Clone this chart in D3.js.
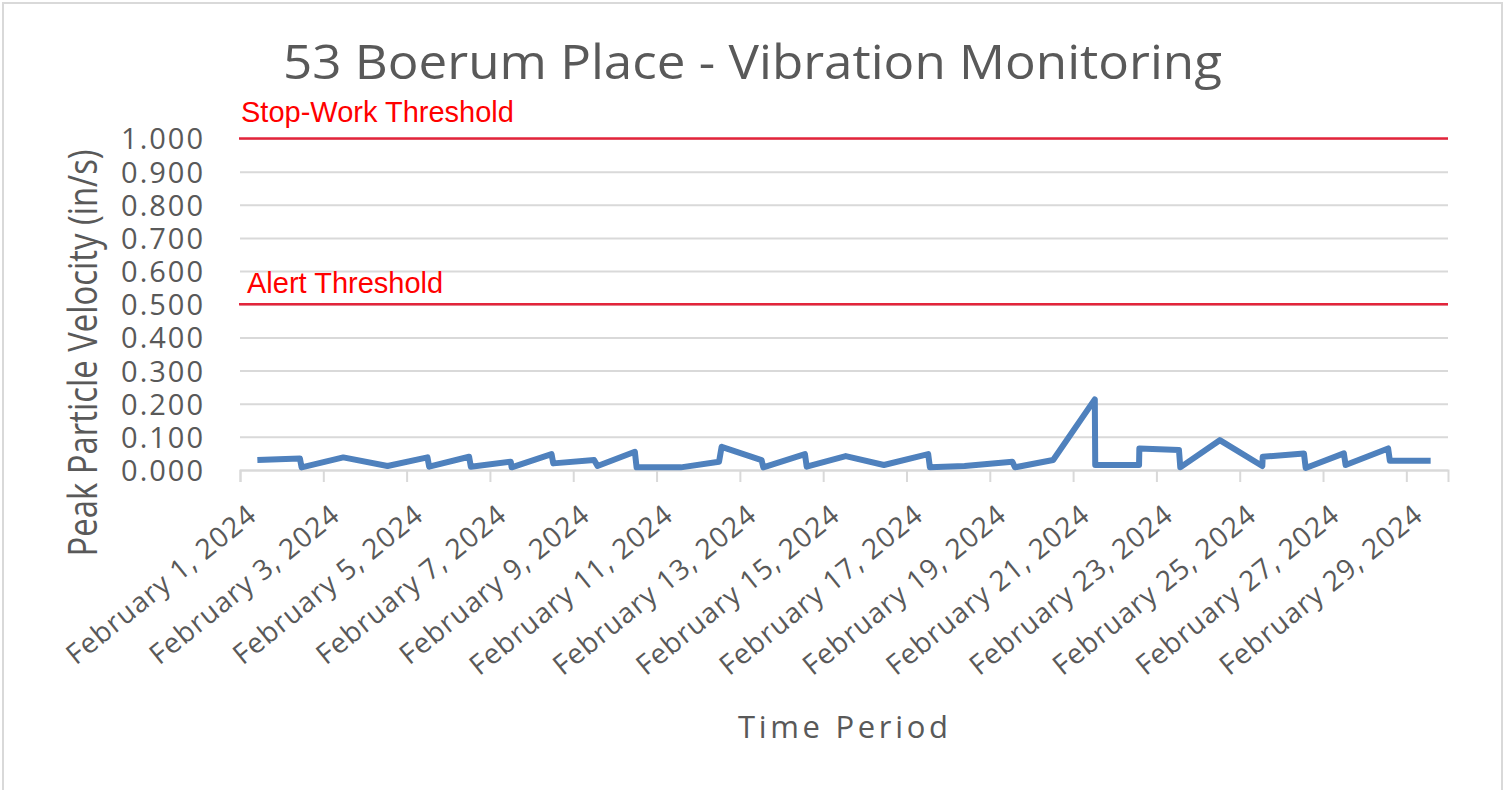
<!DOCTYPE html>
<html>
<head>
<meta charset="utf-8">
<script src="https://cdn.jsdelivr.net/npm/d3@7"></script>
<style>
  body { margin: 0; background: #fff; }
  .grid line { stroke: #d9d9d9; stroke-width: 2; }
  .grid .domain { display: none; }
  .ylab { font-family: "Open Sans", sans-serif; font-size: 29px; fill: #595959; letter-spacing: 2px; }
  .xaxis .domain, .xaxis line { stroke: #d9d9d9; stroke-width: 2; }
  .xaxis text { font-family: "Open Sans", sans-serif; font-size: 28px; fill: #595959; letter-spacing: 1px; }
</style>
</head>
<body>
<script>
// readings (local time) and peak particle velocity, in/s
var readingTimes = [
  "2024-02-01 10:00",
  "2024-02-02 10:30", "2024-02-02 11:30",
  "2024-02-03 11:30",
  "2024-02-04 13:00",
  "2024-02-05 12:00", "2024-02-05 13:00",
  "2024-02-06 12:00", "2024-02-06 13:00",
  "2024-02-07 12:00", "2024-02-07 12:30",
  "2024-02-08 11:30", "2024-02-08 12:30",
  "2024-02-09 12:00", "2024-02-09 14:00",
  "2024-02-10 11:30", "2024-02-10 12:30",
  "2024-02-11 14:00",
  "2024-02-12 12:00", "2024-02-12 13:30",
  "2024-02-13 12:30", "2024-02-13 13:30",
  "2024-02-14 13:30", "2024-02-14 14:30",
  "2024-02-15 13:00",
  "2024-02-16 11:00",
  "2024-02-17 12:30", "2024-02-17 13:30",
  "2024-02-18 09:30",
  "2024-02-19 13:00", "2024-02-19 14:30",
  "2024-02-20 12:30",
  "2024-02-21 12:30", "2024-02-21 12:45",
  "2024-02-22 14:00", "2024-02-22 14:10",
  "2024-02-23 13:00", "2024-02-23 13:45",
  "2024-02-24 12:30",
  "2024-02-25 13:00", "2024-02-25 13:15",
  "2024-02-26 13:00", "2024-02-26 14:00",
  "2024-02-27 12:00", "2024-02-27 13:00",
  "2024-02-28 13:30", "2024-02-28 14:30",
  "2024-02-29 14:00"
];
var ppv = [
  0.030,
  0.035, 0.008,
  0.038,
  0.012,
  0.038, 0.010,
  0.040, 0.010,
  0.025, 0.008,
  0.048, 0.020,
  0.030, 0.012,
  0.055, 0.008,
  0.008,
  0.025, 0.070,
  0.030, 0.008,
  0.048, 0.010,
  0.042,
  0.015,
  0.048, 0.008,
  0.012,
  0.025, 0.008,
  0.030,
  0.213, 0.015,
  0.015, 0.065,
  0.060, 0.008,
  0.090,
  0.012, 0.040,
  0.050, 0.006,
  0.050, 0.015,
  0.065, 0.028,
  0.028
];

// threshold lines
var thresholdNames = ["Stop-Work Threshold", "Alert Threshold"];
var thresholdValues = [1.0, 0.5];

// axis ticks
var yTicks = [0, 0.1, 0.2, 0.3, 0.4, 0.5, 0.6, 0.7, 0.8, 0.9, 1.0];
var tickDays = [1, 3, 5, 7, 9, 11, 13, 15, 17, 19, 21, 23, 25, 27, 29];

var width = 1507, height = 790;
// plot box (note: "top" is taken by window.top, so use plot* names)
var plotLeft = 240, plotRight = 1448, plotTop = 138.5, plotBottom = 470;

var parse = d3.timeParse("%Y-%m-%d %H:%M");
var data = readingTimes.map(function(t, i) { return { t: parse(t), v: ppv[i] }; });

var x = d3.scaleTime()
    .domain([new Date(2024, 1, 1), new Date(2024, 2, 1)])
    .range([plotLeft, plotRight]);
var y = d3.scaleLinear().domain([0, 1]).range([plotBottom, plotTop]);

var svg = d3.select("body").append("svg")
    .attr("width", width)
    .attr("height", height);

// chart frame
svg.append("rect")
    .attr("x", 3).attr("y", 3)
    .attr("width", 1499).attr("height", 800)
    .attr("fill", "#fff")
    .attr("stroke", "#d9d9d9").attr("stroke-width", 2);

// title
svg.append("text")
    .attr("x", 283).attr("y", 79)
    .attr("textLength", 939).attr("lengthAdjust", "spacingAndGlyphs")
    .style("font-family", "Open Sans, sans-serif")
    .style("font-size", "47px")
    .style("fill", "#595959")
    .text("53 Boerum Place - Vibration Monitoring");

// horizontal gridlines + y labels
var gy = svg.append("g")
    .attr("class", "grid")
    .attr("transform", "translate(" + plotLeft + ",0)")
    .call(d3.axisLeft(y)
        .tickValues(yTicks)
        .tickSize(-(plotRight - plotLeft))
        .tickPadding(35)
        .tickFormat(d3.format(".3f")));
gy.selectAll("text").attr("class", "ylab").attr("dy", "0.36em");

// x axis
var gx = svg.append("g")
    .attr("class", "xaxis")
    .attr("transform", "translate(0," + plotBottom + ")")
    .call(d3.axisBottom(x)
        .tickValues(tickDays.map(function(d) { return new Date(2024, 1, d); }))
        .tickSize(12)
        .tickFormat(d3.timeFormat("%B %-d, %Y")));
gx.selectAll("text")
    .attr("y", 0).attr("dy", 0)
    .attr("text-anchor", "end")
    .attr("transform", "translate(18,48) rotate(-39)");

// threshold lines and labels
var labelOffsets = [[1, -17], [7, -11]];
thresholdValues.forEach(function(v, i) {
    svg.append("line")
        .attr("x1", plotLeft - 1).attr("x2", plotRight)
        .attr("y1", y(v)).attr("y2", y(v))
        .attr("stroke", "#e3243b").attr("stroke-width", 2.6);
    svg.append("text")
        .attr("x", plotLeft + labelOffsets[i][0])
        .attr("y", y(v) + labelOffsets[i][1])
        .style("font-family", "Liberation Sans, Arial, sans-serif")
        .style("font-size", "29px")
        .style("fill", "#ff0000")
        .text(thresholdNames[i]);
});

// the ppv series
var line = d3.line()
    .x(function(d) { return x(d.t); })
    .y(function(d) { return y(d.v); });
svg.append("path")
    .datum(data)
    .attr("d", line)
    .attr("fill", "none")
    .attr("stroke", "#4f81bd")
    .attr("stroke-width", 6)
    .attr("stroke-linejoin", "round");

// axis titles
svg.append("text")
    .attr("transform", "translate(97,353) rotate(-90)")
    .attr("text-anchor", "middle")
    .attr("textLength", 407).attr("lengthAdjust", "spacingAndGlyphs")
    .style("font-family", "Open Sans, sans-serif")
    .style("font-size", "40px")
    .style("fill", "#595959")
    .text("Peak Particle Velocity (in/s)");

svg.append("text")
    .attr("x", 738).attr("y", 738)
    .attr("textLength", 210).attr("lengthAdjust", "spacing")
    .style("font-family", "Open Sans, sans-serif")
    .style("font-size", "31px")
    .style("fill", "#595959")
    .text("Time Period");
</script>
</body>
</html>
